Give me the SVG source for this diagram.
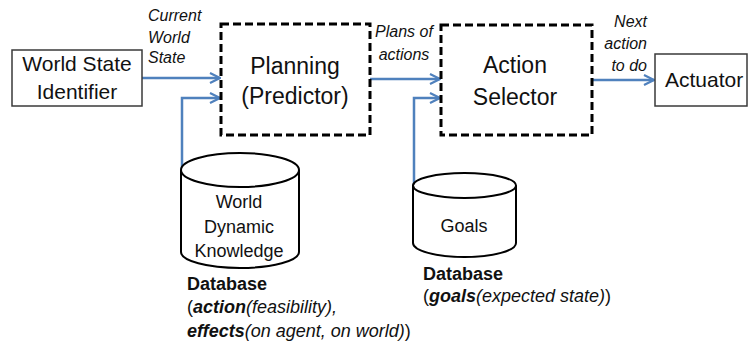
<svg xmlns="http://www.w3.org/2000/svg" width="748" height="345" viewBox="0 0 748 345">
<defs>
<style>
.box{fill:#fff;stroke:#3a3a3a;stroke-width:1.5}
.dash{fill:#fff;stroke:#000;stroke-width:3;stroke-dasharray:8 4}
.cyl{fill:#fff;stroke:#000;stroke-width:2}
.conn{fill:none;stroke:#4f81bd;stroke-width:2.5}
.t{font-family:"Liberation Sans",Arial,sans-serif;fill:#111}
.big{font-size:21px;text-anchor:middle}
.huge{font-size:23px;text-anchor:middle}
.mid{font-size:18px;text-anchor:middle}
.lab{font-size:16px;font-style:italic}
.db{font-size:18px}
</style>
<marker id="arr" viewBox="0 0 12 12" refX="11" refY="6" markerWidth="12" markerHeight="12" markerUnits="userSpaceOnUse" orient="auto">
<path d="M1,1 L11,6 L1,11" fill="none" stroke="#4f81bd" stroke-width="2.2"/>
</marker>
</defs>
<rect width="748" height="345" fill="#fff"/>
<g id="connectors">
<path class="conn" d="M142,78 H220" marker-end="url(#arr)"/>
<path class="conn" d="M182,170 V98 H220" marker-end="url(#arr)"/>
<path class="conn" d="M370,79 H440" marker-end="url(#arr)"/>
<path class="conn" d="M414,185 V98 H440" marker-end="url(#arr)"/>
<path class="conn" d="M592,80 H654" marker-end="url(#arr)"/>
</g>
<g id="world-state">
<rect class="box" x="12" y="50" width="130" height="56"/>
<text class="t big" x="77" y="71">World State</text>
<text class="t big" x="77" y="99">Identifier</text>
</g>
<g id="planning">
<rect class="dash" x="221" y="24" width="149" height="111"/>
<text class="t huge" x="295" y="74">Planning</text>
<text class="t huge" x="295" y="104">(Predictor)</text>
</g>
<g id="action-selector">
<rect class="dash" x="441" y="25" width="151" height="110"/>
<text class="t huge" x="515" y="73">Action</text>
<text class="t huge" x="515" y="105">Selector</text>
</g>
<g id="actuator">
<rect class="box" x="655" y="54" width="92" height="52"/>
<text class="t big" x="665" y="87" style="text-anchor:start">Actuator</text>
</g>
<g id="world-dynamic">
<path class="cyl" d="M181,170 V252 A59,16 0 0 0 299,252 V170"/>
<ellipse class="cyl" cx="240" cy="170" rx="59" ry="17"/>
<text class="t mid" x="239" y="208">World</text>
<text class="t mid" x="239" y="233">Dynamic</text>
<text class="t mid" x="239" y="257">Knowledge</text>
</g>
<g id="goals">
<path class="cyl" d="M413,185.5 V243 A51.5,14 0 0 0 516,243 V185.5"/>
<ellipse class="cyl" cx="464.5" cy="185.5" rx="51.5" ry="12.5"/>
<text class="t mid" x="464" y="232">Goals</text>
</g>
<g id="labels">
<text class="t lab" x="148" y="21">Current</text>
<text class="t lab" x="148" y="43">World</text>
<text class="t lab" x="148" y="63">State</text>
<text class="t lab" x="404" y="37" text-anchor="middle">Plans of</text>
<text class="t lab" x="404" y="60" text-anchor="middle">actions</text>
<text class="t lab" x="647" y="27" text-anchor="end">Next</text>
<text class="t lab" x="647" y="49" text-anchor="end">action</text>
<text class="t lab" x="647" y="71" text-anchor="end">to do</text>
<text class="t db" x="187" y="290" font-weight="bold">Database</text>
<text class="t db" x="187" y="313">(<tspan font-weight="bold" font-style="italic">action</tspan><tspan font-style="italic">(feasibility),</tspan></text>
<text class="t db" x="187" y="337"><tspan font-weight="bold" font-style="italic">effects</tspan><tspan font-style="italic">(on agent, on world)</tspan>)</text>
<text class="t db" x="423" y="280" font-weight="bold">Database</text>
<text class="t db" x="423" y="302">(<tspan font-weight="bold" font-style="italic">goals</tspan><tspan font-style="italic">(expected state)</tspan>)</text>
</g>
</svg>
